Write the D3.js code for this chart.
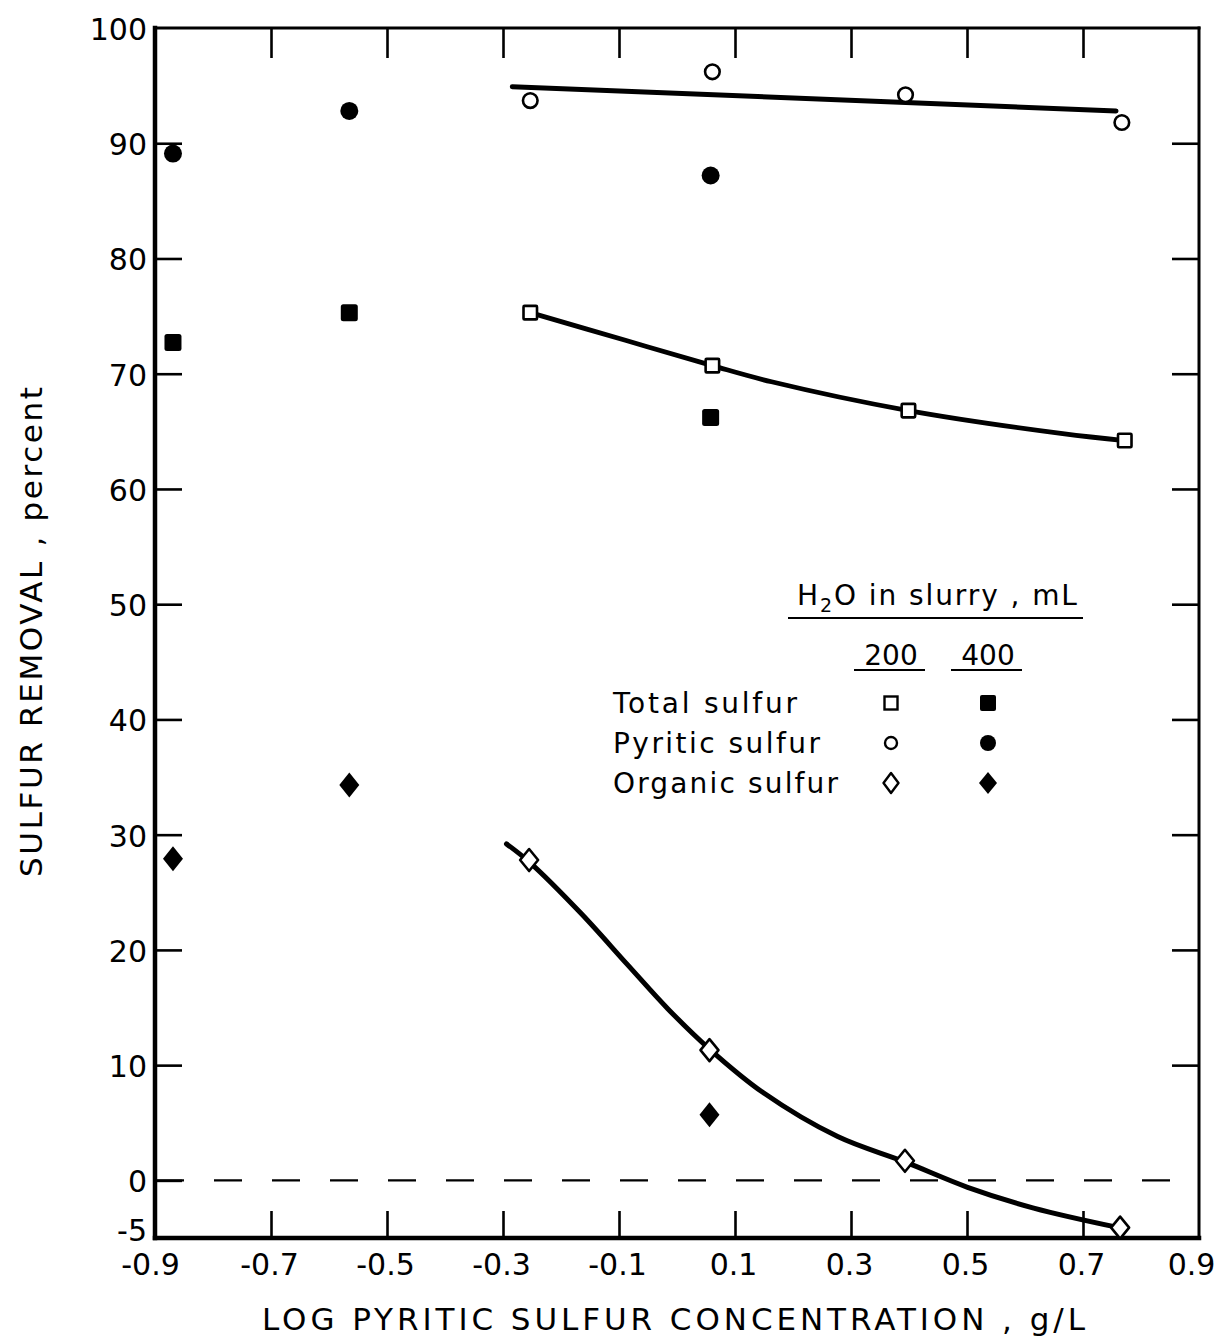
<!DOCTYPE html>
<html>
<head>
<meta charset="utf-8">
<script src="https://cdn.jsdelivr.net/npm/d3@7"></script>
<style>
  html, body { margin: 0; padding: 0; background: #fff; }
  svg { display: block; }
  text { font-family: "DejaVu Sans", "Liberation Sans", sans-serif; fill: #000; }
</style>
</head>
<body>
<svg id="chart" width="1221" height="1337"></svg>
<script>
// ---- tick values ----
const xTickValues = [-0.9, -0.7, -0.5, -0.3, -0.1, 0.1, 0.3, 0.5, 0.7, 0.9];
const yTickValues = [-5, 0, 10, 20, 30, 40, 50, 60, 70, 80, 90, 100];

// ---- measured points: 200 mL water in slurry (open symbols) ----
const total200   = [[-0.253, 75.3], [0.061, 70.7], [0.399, 66.8], [0.772, 64.2]];
const pyritic200 = [[-0.253, 93.7], [0.061, 96.2], [0.394, 94.2], [0.767, 91.8]];
const organic200 = [[-0.255, 27.8], [0.056, 11.3], [0.393, 1.7], [0.764, -4.1]];

// ---- measured points: 400 mL water in slurry (filled symbols) ----
const total400   = [[-0.869, 72.7], [-0.565, 75.3], [0.058, 66.2]];
const pyritic400 = [[-0.869, 89.1], [-0.565, 92.8], [0.058, 87.2]];
const organic400 = [[-0.869, 27.9], [-0.565, 34.3], [0.056, 5.7]];

// ---- fitted curves for the 200 mL series ----
const pyriticFit = [[-0.284, 94.9], [0.757, 92.8]];
const totalFit = [[-0.253, 75.3], [-0.089, 72.9], [0.061, 70.7], [0.163, 69.3],
                  [0.399, 66.8], [0.665, 64.8], [0.772, 64.2]];
const organicFit = [[-0.294, 29.2], [-0.254, 27.6], [-0.166, 23.2], [-0.085, 18.7],
                    [-0.016, 14.9], [0.056, 11.4], [0.149, 7.6], [0.277, 3.8],
                    [0.393, 1.6], [0.501, -0.6], [0.615, -2.4], [0.762, -4.1]];

// ---- legend ----
const legendRows = ["Total sulfur", "Pyritic sulfur", "Organic sulfur"];
const legendCols = ["200", "400"];

const svg = d3.select("#chart");
const plotLeft = 155, plotRight = 1199, plotTop = 28, plotBottom = 1238;

const x = d3.scaleLinear().domain([-0.9, 0.9]).range([plotLeft, plotRight]);
const y = d3.scaleLinear().domain([-5, 100]).range([plotBottom, plotTop]);

// ---- axes (ticks point inward) ----
const inner = v => v > -0.9 && v < 0.9;
const xAxisB = d3.axisBottom(x).tickValues(xTickValues).tickSizeInner(-27).tickSizeOuter(0)
  .tickPadding(16).tickFormat(d => d.toFixed(1));
const xAxisT = d3.axisTop(x).tickValues(xTickValues.filter(inner)).tickSizeInner(-30)
  .tickSizeOuter(0).tickFormat("");
const yAxisL = d3.axisLeft(y).tickValues(yTickValues).tickSizeInner(-27).tickSizeOuter(0)
  .tickPadding(8).tickFormat(d => String(d));
const yAxisR = d3.axisRight(y).tickValues(yTickValues.filter(v => v > 0 && v < 100))
  .tickSizeInner(-27).tickSizeOuter(0).tickFormat("");

function styleAxis(g) {
  g.select(".domain").remove();
  g.selectAll(".tick line").attr("stroke", "#000").attr("stroke-width", 2.6);
  g.selectAll(".tick text").attr("font-size", 30).attr("fill", "#000")
    .attr("font-family", '"DejaVu Sans", sans-serif');
}

const gB = svg.append("g").attr("transform", `translate(0,${plotBottom})`).call(xAxisB).call(styleAxis);
gB.selectAll(".tick").filter(d => !inner(d)).select("line").remove();
gB.selectAll(".tick text").attr("dx", d => d === 0.9 ? -8 : d === -0.9 ? -5 : -2);
svg.append("g").attr("transform", `translate(0,${plotTop})`).call(xAxisT).call(styleAxis);
const gL = svg.append("g").attr("transform", `translate(${plotLeft},0)`).call(yAxisL).call(styleAxis);
gL.selectAll(".tick text").attr("dy", d => d === -5 ? "0.08em" : "0.38em");
gL.selectAll(".tick").filter(d => d === -5 || d === 100).select("line").remove();
svg.append("g").attr("transform", `translate(${plotRight},0)`).call(yAxisR).call(styleAxis);

// ---- frame ----
const frame = svg.append("g").attr("stroke", "#000").attr("stroke-linecap", "square");
frame.append("line").attr("x1", plotLeft).attr("x2", plotRight).attr("y1", plotTop).attr("y2", plotTop).attr("stroke-width", 3);
frame.append("line").attr("x1", plotRight).attr("x2", plotRight).attr("y1", plotTop).attr("y2", plotBottom).attr("stroke-width", 3);
frame.append("line").attr("x1", plotLeft).attr("x2", plotRight).attr("y1", plotBottom).attr("y2", plotBottom).attr("stroke-width", 4.5);
frame.append("line").attr("x1", plotLeft).attr("x2", plotLeft).attr("y1", plotTop).attr("y2", plotBottom).attr("stroke-width", 4.5);

// ---- zero reference line ----
svg.append("line")
  .attr("x1", plotLeft).attr("x2", plotRight).attr("y1", y(0)).attr("y2", y(0))
  .attr("stroke", "#000").attr("stroke-width", 2.2)
  .attr("stroke-dasharray", "28 30").attr("stroke-dashoffset", -1);

// ---- fitted curves ----
const line = d3.line().x(d => x(d[0])).y(d => y(d[1])).curve(d3.curveCatmullRom.alpha(0.5));
[[pyriticFit, 5], [totalFit, 4.8], [organicFit, 5]].forEach(([data, w]) => {
  svg.append("path").datum(data).attr("d", line)
    .attr("fill", "none").attr("stroke", "#000").attr("stroke-width", w)
    .attr("stroke-linecap", "round").attr("stroke-linejoin", "round");
});

// ---- symbols ----
const diamondPath = (hw, hh) => `M0,${-hh}L${hw},0L0,${hh}L${-hw},0Z`;
function drawSquares(g, data, side, open) {
  g.selectAll(null).data(data).join("rect")
    .attr("x", d => x(d[0]) - side / 2).attr("y", d => y(d[1]) - side / 2)
    .attr("width", side).attr("height", side).attr("rx", open ? 1 : 2.5)
    .attr("fill", open ? "#fff" : "#000").attr("stroke", "#000").attr("stroke-width", open ? 2.6 : 0);
}
function drawCircles(g, data, r, open) {
  g.selectAll(null).data(data).join("circle")
    .attr("cx", d => x(d[0])).attr("cy", d => y(d[1])).attr("r", r)
    .attr("fill", open ? "#fff" : "#000").attr("stroke", "#000").attr("stroke-width", open ? 2.6 : 0);
}
function drawDiamonds(g, data, hw, hh, open) {
  g.selectAll(null).data(data).join("path")
    .attr("transform", d => `translate(${x(d[0])},${y(d[1])})`)
    .attr("d", diamondPath(hw, hh))
    .attr("fill", open ? "#fff" : "#000").attr("stroke", "#000")
    .attr("stroke-width", open ? 2.6 : 0).attr("stroke-linejoin", "round");
}
const marks = svg.append("g");
drawSquares(marks, total200, 13.5, true);
drawCircles(marks, pyritic200, 7.3, true);
drawDiamonds(marks, organic200, 9, 11, true);
drawSquares(marks, total400, 17, false);
drawCircles(marks, pyritic400, 9, false);
drawDiamonds(marks, organic400, 10, 12.5, false);

// ---- helper: spread a text's letters to span a given width ----
function spreadTo(sel, width) {
  const node = sel.node();
  const n = node.getNumberOfChars();
  const natural = node.getComputedTextLength();
  sel.attr("letter-spacing", ((width - natural) / (n - 1)).toFixed(2));
}

// ---- axis titles ----
const xTitle = svg.append("text").attr("x", 262).attr("y", 1330).attr("font-size", 31)
  .text("LOG PYRITIC SULFUR CONCENTRATION , g/L");
spreadTo(xTitle, 823);

const yTitle = svg.append("text").attr("transform", "translate(42,877) rotate(-90)")
  .attr("font-size", 31).text("SULFUR REMOVAL , percent");
spreadTo(yTitle, 490);

// ---- legend ----
const lg = svg.append("g");
const head = lg.append("text").attr("x", 797).attr("y", 605).attr("font-size", 28);
head.append("tspan").text("H");
head.append("tspan").attr("font-size", 19).attr("dy", 7).text("2");
head.append("tspan").attr("dy", -7).text("O in slurry , mL");
spreadTo(head, 280);
lg.append("line").attr("x1", 788).attr("x2", 1083).attr("y1", 618).attr("y2", 618)
  .attr("stroke", "#000").attr("stroke-width", 2.2);

const colX = [891, 988];
legendCols.forEach((c, i) => {
  lg.append("text").attr("x", colX[i]).attr("y", 665).attr("font-size", 28)
    .attr("text-anchor", "middle").text(c);
  lg.append("line").attr("x1", colX[i] - 37).attr("x2", colX[i] + 34).attr("y1", 670).attr("y2", 670)
    .attr("stroke", "#000").attr("stroke-width", 2.2);
});

const rowY = [703, 743, 783];
const rowWidths = [184, 207, 225];
legendRows.forEach((r, i) => {
  const t = lg.append("text").attr("x", 613).attr("y", rowY[i] + 10).attr("font-size", 28).text(r);
  spreadTo(t, rowWidths[i]);
});

// legend symbols
lg.append("rect").attr("x", colX[0] - 6.5).attr("y", rowY[0] - 6.5).attr("width", 13).attr("height", 13)
  .attr("fill", "#fff").attr("stroke", "#000").attr("stroke-width", 2.4);
lg.append("rect").attr("x", colX[1] - 8).attr("y", rowY[0] - 8).attr("width", 16).attr("height", 16)
  .attr("rx", 2).attr("fill", "#000");
lg.append("circle").attr("cx", colX[0]).attr("cy", rowY[1]).attr("r", 6)
  .attr("fill", "#fff").attr("stroke", "#000").attr("stroke-width", 2.4);
lg.append("circle").attr("cx", colX[1]).attr("cy", rowY[1]).attr("r", 8).attr("fill", "#000");
lg.append("path").attr("transform", `translate(${colX[0]},${rowY[2]})`).attr("d", diamondPath(7.5, 10))
  .attr("fill", "#fff").attr("stroke", "#000").attr("stroke-width", 2.4).attr("stroke-linejoin", "round");
lg.append("path").attr("transform", `translate(${colX[1]},${rowY[2]})`).attr("d", diamondPath(9, 11))
  .attr("fill", "#000");
</script>
</body>
</html>
